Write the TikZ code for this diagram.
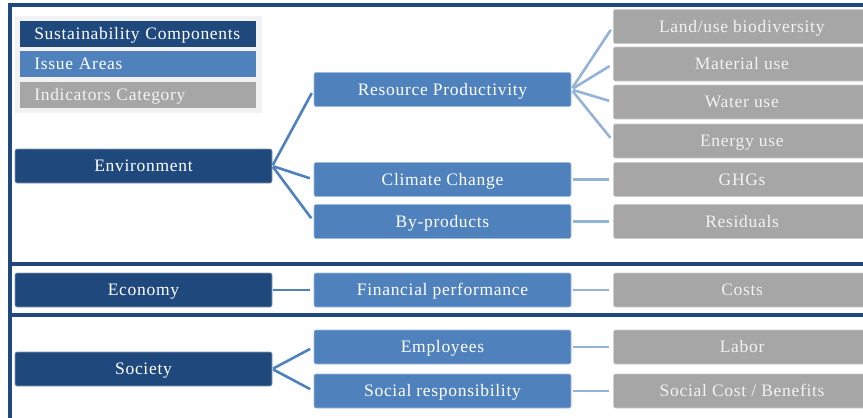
\documentclass[tikz,border=0pt]{standalone}
\usepackage{fontspec}
\setmainfont{Liberation Serif}[LetterSpace=4]
\usetikzlibrary{positioning}
\definecolor{compblue}{HTML}{1F497D}
\definecolor{issueblue}{HTML}{4F81BD}
\definecolor{linkblue}{HTML}{95B3D7}
\definecolor{indicgray}{HTML}{A6A6A6}
\definecolor{legendbg}{HTML}{F2F2F2}
\tikzset{
  compbox/.style={fill=compblue, draw=compblue!55, line width=0.6pt, rounded corners=2pt,
    text=white, minimum width=257pt, minimum height=34pt, inner sep=0pt,
    text height=1.2em, text depth=0.08em, font=\fontsize{17.5}{20}\selectfont},
  issuebox/.style={compbox, fill=issueblue, draw=issueblue!55},
  indicbox/.style={compbox, fill=indicgray, draw=indicgray!60, text=legendbg},
  keybox/.style={compbox, rounded corners=0pt, draw=none, minimum height=26pt,
    minimum width=236pt, text width=208pt, inner xsep=14pt, align=left, anchor=west},
  frameline/.style={draw=compblue, line width=3.5pt, line join=miter},
  fan/.style={draw=issueblue, line width=2.6pt, shorten >=4pt, shorten <=1pt},
  sublink/.style={draw=linkblue, line width=2.6pt, shorten >=4pt, shorten <=2pt}
}

\begin{document}
\begin{tikzpicture}[x=1pt, y=-1pt]
\clip (0,0) rectangle (863,418);
% panel frames
\draw[frameline] (10,418) -- (10,5) -- (863,5);
\draw[frameline] (10,264) -- (863,264);
\draw[frameline] (10,315) -- (863,315);

% key
\fill[legendbg] (15,16) rectangle (262,113);
\node[keybox] (keycomp) at (20,33.5) {Sustainability Components};
\node[keybox, fill=issueblue] (keyissue) at (20,64) {Issue Areas};
\node[keybox, fill=indicgray, text=legendbg] (keyindic) at (20,95) {Indicators Category};

% environment
\node[compbox] (env) at (143.5,166) {Environment};
\node[issuebox] (resprod) at (442.5,89.5) {Resource Productivity};
\node[issuebox] (climate) at (442.5,179.5) {Climate Change};
\node[issuebox] (byprod) at (442.5,221.5) {By-products};
\node[indicbox, anchor=west] (land) at (613,26.5) {Land/use biodiversity};
\node[indicbox, anchor=west] (material) at (613,64) {Material use};
\node[indicbox, anchor=west] (water) at (613,102) {Water use};
\node[indicbox, anchor=west] (energy) at (613,141) {Energy use};
\node[indicbox, right=42pt of climate] (ghg) {GHGs};
\node[indicbox, right=42pt of byprod] (resid) {Residuals};

% economy
\node[compbox] (econ) at (143.5,290) {Economy};
\node[issuebox] (finperf) at (442.5,290) {Financial performance};
\node[indicbox, right=42pt of finperf] (costs) {Costs};

% society
\node[compbox] (soc) at (143.5,369) {Society};
\node[issuebox] (employees) at (442.5,347) {Employees};
\node[issuebox] (socresp) at (442.5,391) {Social responsibility};
\node[indicbox, right=42pt of employees] (labor) {Labor};
\node[indicbox, right=42pt of socresp] (soccost) {Social Cost / Benefits};

% links
\foreach \t in {resprod,climate,byprod}
  \draw[fan] (env.east) -- (\t.west);
\foreach \t in {land,material,water,energy}
  \draw[sublink] (resprod.east) -- (\t.west);
\draw[sublink] (climate) -- (ghg);
\draw[sublink] (byprod) -- (resid);
\draw[fan] (econ) -- (finperf);
\draw[sublink] (finperf) -- (costs);
\foreach \t in {employees,socresp}
  \draw[fan] (soc.east) -- (\t.west);
\draw[sublink] (employees) -- (labor);
\draw[sublink] (socresp) -- (soccost);
\end{tikzpicture}
\end{document}
